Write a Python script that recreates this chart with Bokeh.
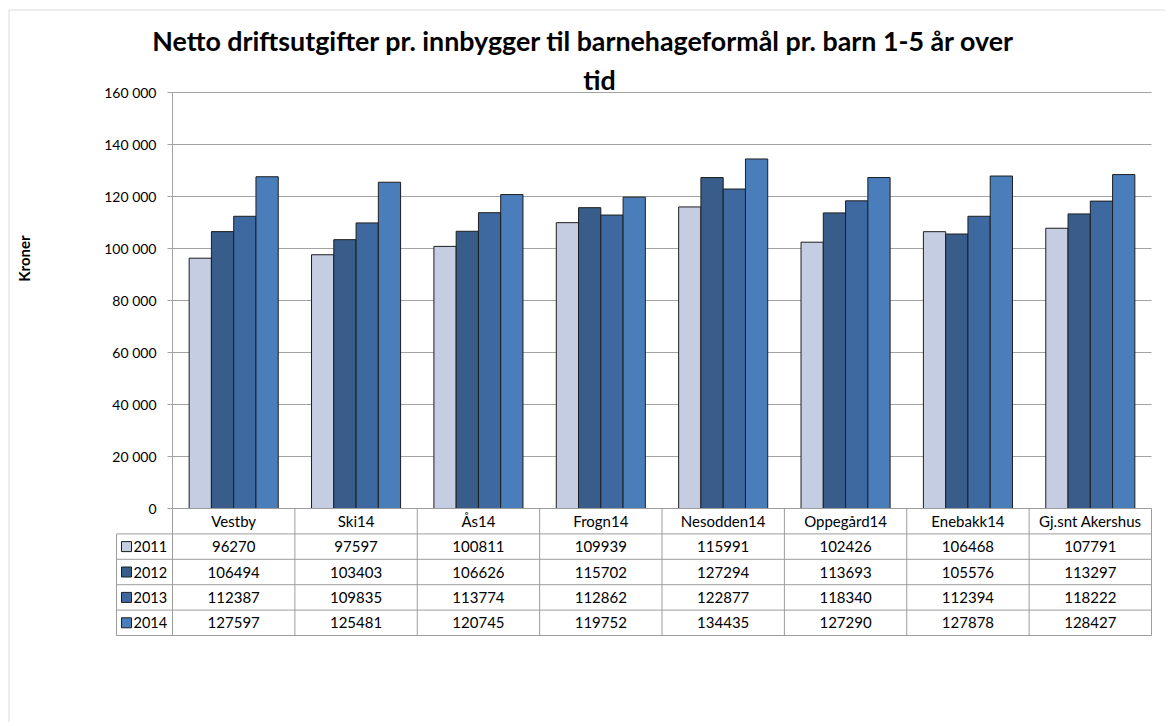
import numpy as np
from bokeh.plotting import figure
from bokeh.models import Range1d, LinearAxis, FixedTicker, Label, BoxAnnotation
from bokeh.core.properties import value
from bokeh.embed import file_html
from bokeh.resources import INLINE

# ---------------- data ----------------
categories = ["Vestby", "Ski14", "Ås14", "Frogn14", "Nesodden14", "Oppegård14", "Enebakk14", "Gj.snt Akershus"]
years = ["2011", "2012", "2013", "2014"]
v2011 = [96270, 97597, 100811, 109939, 115991, 102426, 106468, 107791]
v2012 = [106494, 103403, 106626, 115702, 127294, 113693, 105576, 113297]
v2013 = [112387, 109835, 113774, 112862, 122877, 118340, 112394, 118222]
v2014 = [127597, 125481, 120745, 119752, 134435, 127290, 127878, 128427]
y_ticks = [0, 20000, 40000, 60000, 80000, 100000, 120000, 140000, 160000]
title_line1 = "Netto driftsutgifter pr. innbygger til barnehageformål pr. barn 1-5 år over"
title_line2 = "tid"
y_label = "Kroner"

series = [v2011, v2012, v2013, v2014]
colors = ["#C4CDE1", "#385D8A", "#3E69A0", "#4A7EBB"]

# ---------------- layout (canvas pixels) ----------------
W, H = 1165, 722
AX_X, PLOT_R = 172, 1151
AX_Y0, AX_Y1 = 508, 92
U = (PLOT_R - AX_X) / len(categories)
PY = (AX_Y0 - AX_Y1) / y_ticks[-1]
ROW = 25.4


def dx(px):
    return (px - AX_X) / U


def dy(py):
    return (AX_Y0 - py) / PY


FONT = value("Lato")
GRID = "#a3a3a3"
TBL = "#9d9d9d"
EDGE = "#1e1e1e"

p = figure(width=W, height=H,
           x_range=Range1d(dx(0), dx(W)),
           y_range=Range1d(dy(H), dy(0)),
           output_backend="svg", toolbar_location=None,
           x_axis_location=None, y_axis_location=None,
           min_border_left=0, min_border_right=0,
           min_border_top=0, min_border_bottom=0)
p.grid.visible = False
p.outline_line_color = None
p.background_fill_color = "white"
p.border_fill_color = "white"

# outer chart border
p.add_layout(BoxAnnotation(left=dx(8.5), right=dx(1400), top=dy(9.5), bottom=dy(1000),
                           fill_alpha=0, line_color="#878787", line_width=1))

# y axis
yaxis = LinearAxis(ticker=FixedTicker(ticks=y_ticks), fixed_location=0, bounds=(0, y_ticks[-1]))
yaxis.major_label_overrides = {t: f"{t:,}".replace(",", " ") for t in y_ticks}
yaxis.major_tick_out = 5
yaxis.major_tick_in = 0
yaxis.minor_tick_out = 0
yaxis.minor_tick_in = 0
yaxis.axis_line_color = GRID
yaxis.major_tick_line_color = GRID
yaxis.major_label_text_font = "Lato"
yaxis.major_label_text_font_size = "14px"
yaxis.major_label_text_color = "#000000"
yaxis.major_label_standoff = 11
p.add_layout(yaxis, "left")

# gridlines
n = len(categories)
gt = y_ticks[1:]
p.segment(x0=[0] * len(gt), x1=[n] * len(gt), y0=gt, y1=gt, line_color=GRID, line_width=1)

# bars
bw = 0.182
offsets = [-1.5, -0.5, 0.5, 1.5]
xs = np.arange(n) + 0.5
for vals, c, off in zip(series, colors, offsets):
    p.vbar(x=xs + off * bw, top=vals, bottom=0, width=bw,
           fill_color=c, line_color=EDGE, line_width=1)

# data table
RD = ROW / PY
hy = [0] + [-(i * RD) for i in range(1, 6)]
hx0 = [0] + [dx(116)] * 5
p.segment(x0=hx0, x1=[n] * 6, y0=hy, y1=hy, line_color=TBL, line_width=1)
vx = list(range(n + 1)) + [dx(116)]
vy0 = [0] * (n + 1) + [-RD]
vy1 = [-5 * RD] * (n + 2)
p.segment(x0=vx, x1=vx, y0=vy0, y1=vy1, line_color=TBL, line_width=1)

p.text(x=xs, y=[-0.5 * RD] * n, text=categories, text_font=FONT, text_font_size="15px",
       text_align="center", text_baseline="middle", text_color="#000000")
for r, (vals, c, yr) in enumerate(zip(series, colors, years), start=1):
    yc = -(r + 0.5) * RD
    p.text(x=xs, y=[yc] * n, text=[str(v) for v in vals], text_font=FONT,
           text_font_size="15px", text_align="center", text_baseline="middle",
           text_color="#000000")
    p.text(x=[dx(133)], y=[yc], text=[yr], text_font=FONT, text_font_size="14.5px",
           text_align="left", text_baseline="middle", text_color="#000000")
    p.rect(x=[dx(126)], y=[yc], width=10, height=10, width_units="screen",
           height_units="screen", fill_color=c, line_color=EDGE, line_width=1)

# title
p.text(x=[dx(583)], y=[dy(40)], text=[title_line1], text_font=FONT, text_font_size="26.8px",
       text_font_style="bold", text_align="center", text_baseline="middle",
       text_color="#000000")
p.text(x=[dx(599)], y=[dy(79)], text=[title_line2], text_font=FONT, text_font_size="26.8px",
       text_font_style="bold", text_align="center", text_baseline="middle",
       text_color="#000000")

# y axis title
p.add_layout(Label(x=dx(23), y=dy(258), text=y_label, angle=np.pi / 2,
                   text_font="Lato", text_font_size="15px", text_font_style="bold",
                   text_align="center", text_baseline="middle", text_color="#000000"))

open("out.html", "w").write(file_html(p, INLINE))
